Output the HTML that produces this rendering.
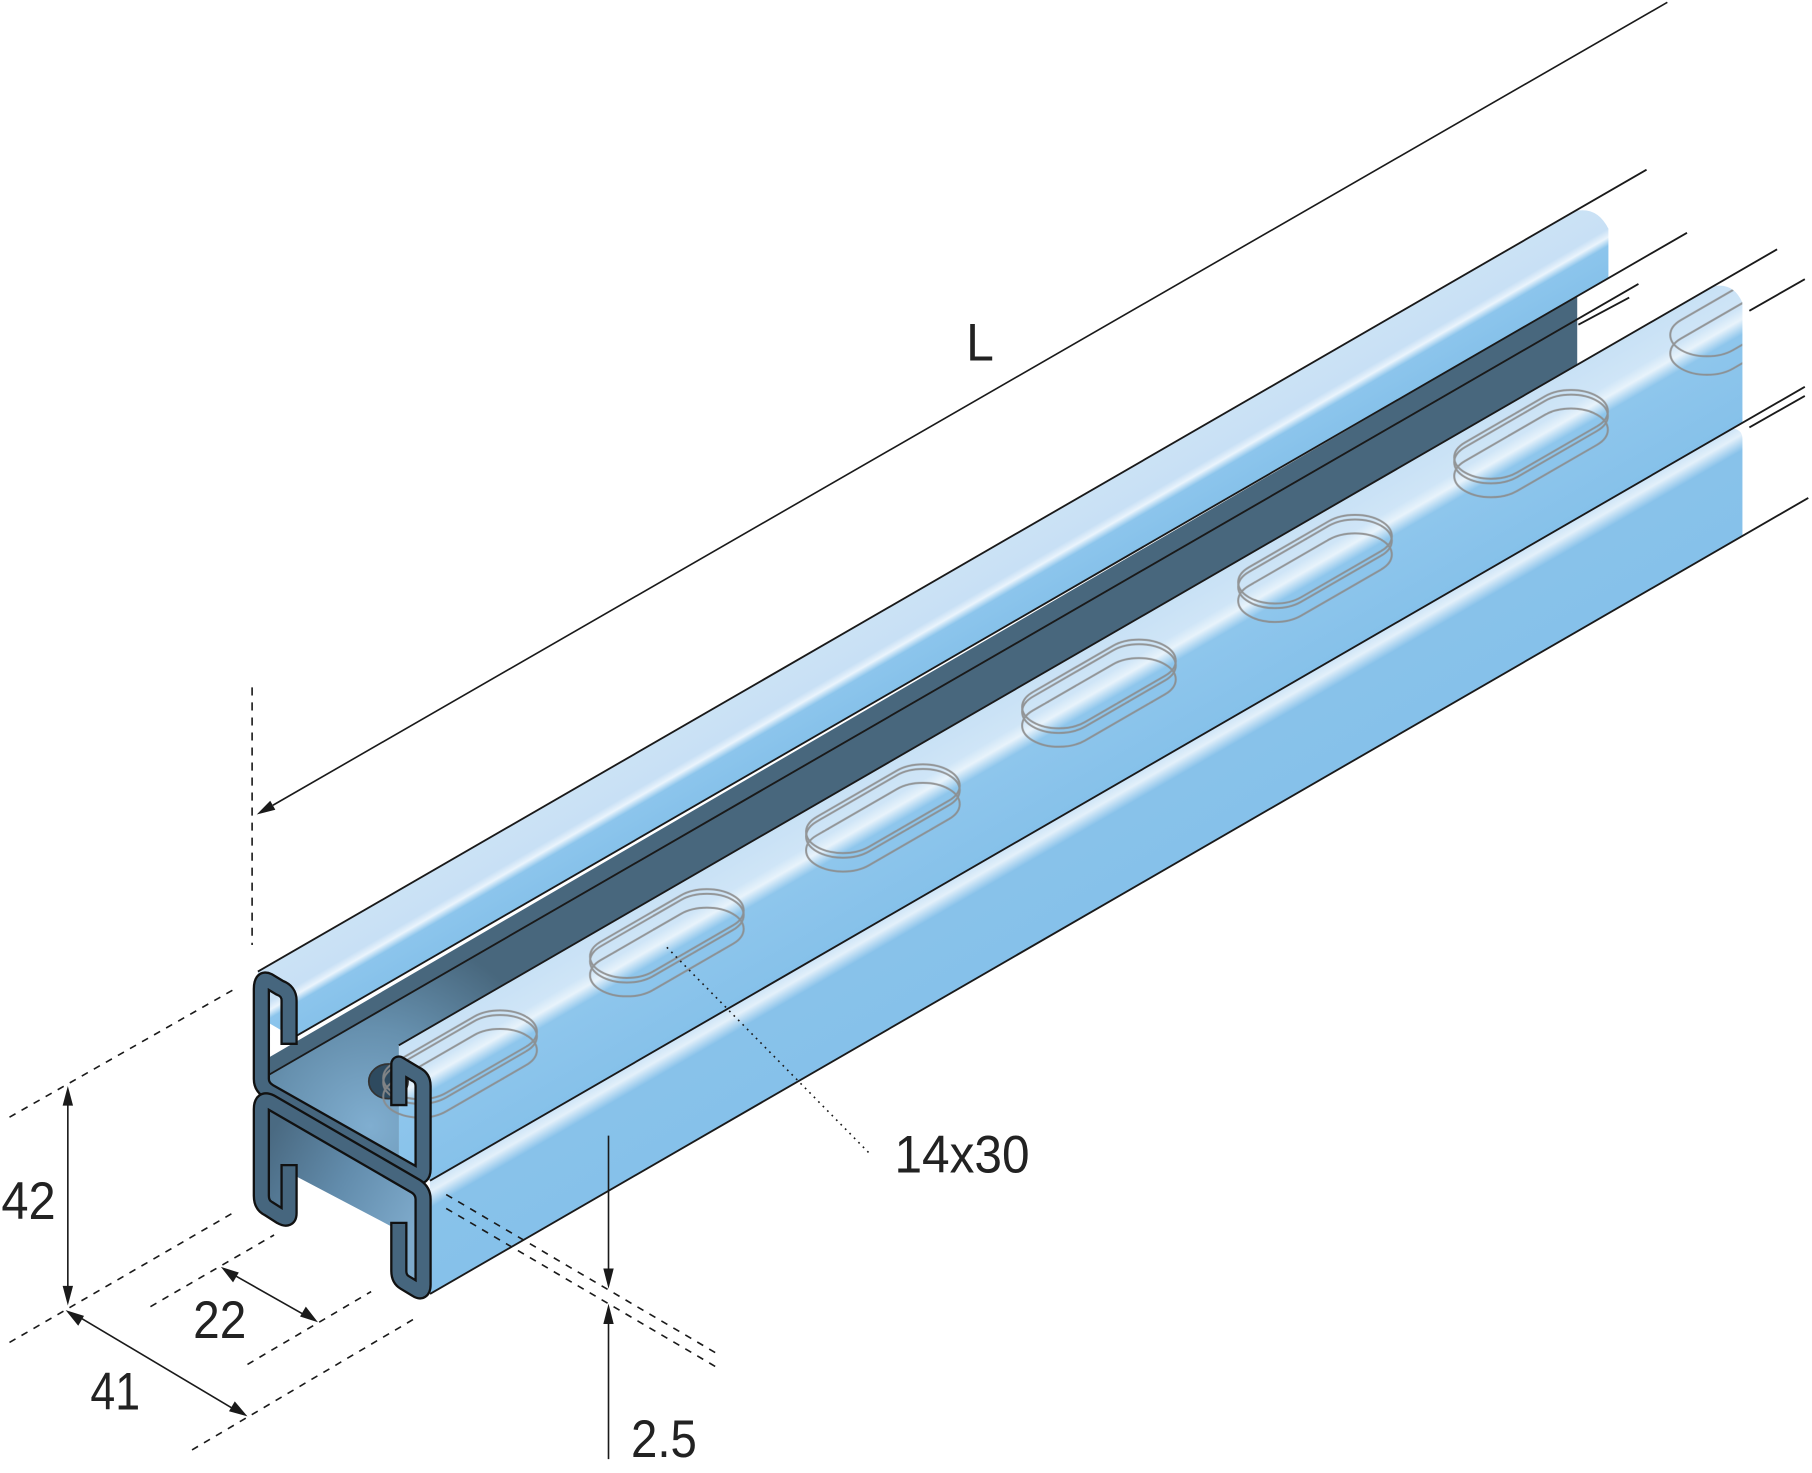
<!DOCTYPE html>
<html><head><meta charset="utf-8"><style>
html,body{margin:0;padding:0;background:#fff;}
svg{display:block;}
text{font-family:"Liberation Sans",sans-serif;fill:#222;}
</style></head><body>
<svg width="1812" height="1473" viewBox="0 0 1568 1275" xmlns="http://www.w3.org/2000/svg">
<defs>
<linearGradient id="g1" gradientUnits="userSpaceOnUse" x1="223" y1="841" x2="255.5" y2="897.3">
<stop offset="0" stop-color="#cbe2f5"/><stop offset="0.42" stop-color="#c8e0f5"/><stop offset="0.52" stop-color="#eaf4fc"/><stop offset="0.62" stop-color="#8cc5ec"/><stop offset="1" stop-color="#86c1ea"/></linearGradient>
<linearGradient id="g3" gradientUnits="userSpaceOnUse" x1="345" y1="905" x2="402.5" y2="1004.6">
<stop offset="0" stop-color="#c8e1f5"/><stop offset="0.24" stop-color="#cfe5f7"/><stop offset="0.32" stop-color="#e8f3fb"/><stop offset="0.42" stop-color="#8ec6ec"/><stop offset="1" stop-color="#86c1ea"/></linearGradient>
<linearGradient id="g4" gradientUnits="userSpaceOnUse" x1="372" y1="1022" x2="414.5" y2="1095.6">
<stop offset="0" stop-color="#cde4f7"/><stop offset="0.1" stop-color="#e3f0fa"/><stop offset="0.24" stop-color="#88c2ea"/><stop offset="1" stop-color="#86c1ea"/></linearGradient>
<radialGradient id="gf" gradientUnits="userSpaceOnUse" cx="320" cy="975" r="170">
<stop offset="0" stop-color="#80aed0"/><stop offset="0.5" stop-color="#6690ae"/><stop offset="1" stop-color="#48677d"/></radialGradient>
<linearGradient id="gb" gradientUnits="userSpaceOnUse" x1="230" y1="990" x2="360" y2="1060">
<stop offset="0" stop-color="#4a6a82"/><stop offset="0.5" stop-color="#628cac"/><stop offset="1" stop-color="#7eaacb"/></linearGradient>
<clipPath id="c3"><path d="M345,905 L1482,248 Q1500,244 1508,262 L1508,366 L372,1022 L345,1005 Z"/></clipPath>
</defs>

<polygon points="228,918 1365,256.4 1365,315.7 345,905 345,1010 228,940" fill="#48677d"/>
<polygon points="230,931 600,718 600,757 345,905 345,1012 230,940" fill="url(#gf)"/>
<path d="M223,841 L1362,183 Q1382,178 1392,198 L1392,241 L254,898 L223,880 Z" fill="url(#g1)"/>
<path d="M345,905 L1482,248 Q1500,244 1508,262 L1508,366 L372,1022 L345,1005 Z" fill="url(#g3)"/>
<path d="M372,1022 L1500,371 Q1508,372 1508,380 L1508,464 L372,1120 Z" fill="url(#g4)"/>

<g stroke="#1a1a1a" stroke-width="1.6" fill="none">
<line x1="223" y1="841" x2="1425" y2="146.9"/>
<line x1="254" y1="898" x2="1460" y2="201.5"/>
<line x1="230" y1="931.8" x2="1418" y2="245.8"/>
<line x1="1366" y1="281" x2="1410" y2="257.6"/>
<line x1="345" y1="904.8" x2="1538" y2="215.8"/>
<line x1="372" y1="1022" x2="1562" y2="334.8"/>
<line x1="372" y1="1120" x2="1565" y2="431"/>
<line x1="1514" y1="269" x2="1562" y2="241.7"/>
<line x1="1514" y1="370" x2="1562" y2="342.7"/>
</g>

<ellipse cx="336" cy="936" rx="17" ry="15" fill="#2e4a5f" stroke="#333" stroke-width="1.5"/>

<g fill="none" stroke="#8c8c8c" stroke-width="2" opacity="0.9">
<g transform="translate(398,913)"><g transform="matrix(0.866,-0.5,0.866,0.5,0,0)"><rect x="-66" y="-26" width="132" height="52" rx="26" vector-effect="non-scaling-stroke"/></g><g transform="matrix(0.866,-0.5,0.866,0.5,0,4)"><rect x="-66" y="-26" width="132" height="52" rx="26" vector-effect="non-scaling-stroke"/></g><g transform="matrix(0.866,-0.5,0.866,0.5,0,16)"><rect x="-66" y="-26" width="132" height="52" rx="26" vector-effect="non-scaling-stroke"/></g></g>
<g transform="translate(577,808)"><g transform="matrix(0.866,-0.5,0.866,0.5,0,0)"><rect x="-66" y="-26" width="132" height="52" rx="26" vector-effect="non-scaling-stroke"/></g><g transform="matrix(0.866,-0.5,0.866,0.5,0,4)"><rect x="-66" y="-26" width="132" height="52" rx="26" vector-effect="non-scaling-stroke"/></g><g transform="matrix(0.866,-0.5,0.866,0.5,0,16)"><rect x="-66" y="-26" width="132" height="52" rx="26" vector-effect="non-scaling-stroke"/></g></g>
<g transform="translate(764,700)"><g transform="matrix(0.866,-0.5,0.866,0.5,0,0)"><rect x="-66" y="-26" width="132" height="52" rx="26" vector-effect="non-scaling-stroke"/></g><g transform="matrix(0.866,-0.5,0.866,0.5,0,4)"><rect x="-66" y="-26" width="132" height="52" rx="26" vector-effect="non-scaling-stroke"/></g><g transform="matrix(0.866,-0.5,0.866,0.5,0,16)"><rect x="-66" y="-26" width="132" height="52" rx="26" vector-effect="non-scaling-stroke"/></g></g>
<g transform="translate(951,592)"><g transform="matrix(0.866,-0.5,0.866,0.5,0,0)"><rect x="-66" y="-26" width="132" height="52" rx="26" vector-effect="non-scaling-stroke"/></g><g transform="matrix(0.866,-0.5,0.866,0.5,0,4)"><rect x="-66" y="-26" width="132" height="52" rx="26" vector-effect="non-scaling-stroke"/></g><g transform="matrix(0.866,-0.5,0.866,0.5,0,16)"><rect x="-66" y="-26" width="132" height="52" rx="26" vector-effect="non-scaling-stroke"/></g></g>
<g transform="translate(1138,484)"><g transform="matrix(0.866,-0.5,0.866,0.5,0,0)"><rect x="-66" y="-26" width="132" height="52" rx="26" vector-effect="non-scaling-stroke"/></g><g transform="matrix(0.866,-0.5,0.866,0.5,0,4)"><rect x="-66" y="-26" width="132" height="52" rx="26" vector-effect="non-scaling-stroke"/></g><g transform="matrix(0.866,-0.5,0.866,0.5,0,16)"><rect x="-66" y="-26" width="132" height="52" rx="26" vector-effect="non-scaling-stroke"/></g></g>
<g transform="translate(1325,376)"><g transform="matrix(0.866,-0.5,0.866,0.5,0,0)"><rect x="-66" y="-26" width="132" height="52" rx="26" vector-effect="non-scaling-stroke"/></g><g transform="matrix(0.866,-0.5,0.866,0.5,0,4)"><rect x="-66" y="-26" width="132" height="52" rx="26" vector-effect="non-scaling-stroke"/></g><g transform="matrix(0.866,-0.5,0.866,0.5,0,16)"><rect x="-66" y="-26" width="132" height="52" rx="26" vector-effect="non-scaling-stroke"/></g></g>
<g clip-path="url(#c3)"><g transform="translate(1512,270)"><g transform="matrix(0.866,-0.5,0.866,0.5,0,0)"><rect x="-66" y="-26" width="132" height="52" rx="26" vector-effect="non-scaling-stroke"/></g><g transform="matrix(0.866,-0.5,0.866,0.5,0,16)"><rect x="-66" y="-26" width="132" height="52" rx="26" vector-effect="non-scaling-stroke"/></g></g></g>
</g>

<polygon points="226,952 366,1032 366,1117 345,1105 345,1065 250,1015 250,1050 226,1036" fill="url(#gb)"/>

<g fill="none" stroke-linejoin="round" stroke-linecap="square">
<path d="M250,897 L250,866 Q250,858 242,855 L232,849 Q226,846 226,856 L226,934 Q226,941 233,945 L360,1017 Q366,1020 366,1012 L366,940 Q366,933 360,930 L345,921 L345,950" stroke="#111" stroke-width="15"/>
<path d="M250,897 L250,866 Q250,858 242,855 L232,849 Q226,846 226,856 L226,934 Q226,941 233,945 L360,1017 Q366,1020 366,1012 L366,940 Q366,933 360,930 L345,921 L345,950" stroke="#46667e" stroke-width="11"/>
<path d="M250,1015 L250,1050 Q250,1057 243,1053 L232,1046 Q226,1043 226,1035 L226,960 Q226,950 234,954 L360,1027 Q366,1031 366,1038 L366,1112 Q366,1120 360,1116 L350,1110 Q345,1107 345,1100 L345,1065" stroke="#111" stroke-width="15"/>
<path d="M250,1015 L250,1050 Q250,1057 243,1053 L232,1046 Q226,1043 226,1035 L226,960 Q226,950 234,954 L360,1027 Q366,1031 366,1038 L366,1112 Q366,1120 360,1116 L350,1110 Q345,1107 345,1100 L345,1065" stroke="#46667e" stroke-width="11"/>
</g>

<g stroke="#1a1a1a" stroke-width="1.4" fill="none">
<line x1="236" y1="697" x2="1443" y2="2"/>
<line x1="218" y1="595" x2="218" y2="818" stroke-dasharray="7,6"/>
<line x1="58.5" y1="954" x2="58.5" y2="1116"/>
<line x1="70" y1="1141" x2="201" y2="1219"/>
<line x1="203" y1="1104" x2="263" y2="1138"/>
<line x1="526.5" y1="983" x2="526.5" y2="1100"/>
<line x1="526.5" y1="1144" x2="526.5" y2="1263"/>
<g stroke-dasharray="6,6">
<line x1="8" y1="967" x2="203" y2="856"/>
<line x1="8" y1="1162" x2="203" y2="1049"/>
<line x1="130" y1="1131" x2="237" y2="1069"/>
<line x1="214" y1="1181" x2="321" y2="1118"/>
<line x1="166" y1="1255" x2="361" y2="1140"/>
<line x1="386" y1="1034" x2="621" y2="1172"/>
<line x1="386" y1="1046" x2="621" y2="1184"/>
</g>
<line x1="577" y1="820" x2="752" y2="998" stroke-dasharray="1.5,4"/>
</g>
<g fill="#1a1a1a">
<polygon points="222,705 238.1,700.9 233.7,693.1"/>
<polygon points="58.5,940 54,957 63,957"/>
<polygon points="58.5,1130 54,1113 63,1113"/>
<polygon points="56.6,1134 67.5,1147.5 72.5,1139"/>
<polygon points="214,1226 203,1213 198,1221.5"/>
<polygon points="191,1096.6 201.5,1110 206.5,1101.5"/>
<polygon points="275,1144.5 264.5,1131 259.5,1139.5"/>
<polygon points="526.5,1115.5 522,1098 531,1098"/>
<polygon points="526.5,1128.5 522,1146 531,1146"/>
</g>
<g font-size="46">
<text x="836" y="312" textLength="24" lengthAdjust="spacingAndGlyphs">L</text>
<text x="1" y="1055" textLength="47" lengthAdjust="spacingAndGlyphs">42</text>
<text x="167" y="1158" textLength="46" lengthAdjust="spacingAndGlyphs">22</text>
<text x="78" y="1220" textLength="43" lengthAdjust="spacingAndGlyphs">41</text>
<text x="546" y="1261" textLength="57" lengthAdjust="spacingAndGlyphs">2.5</text>
<text x="774" y="1015" textLength="117" lengthAdjust="spacingAndGlyphs">14x30</text>
</g>
</svg>
</body></html>
